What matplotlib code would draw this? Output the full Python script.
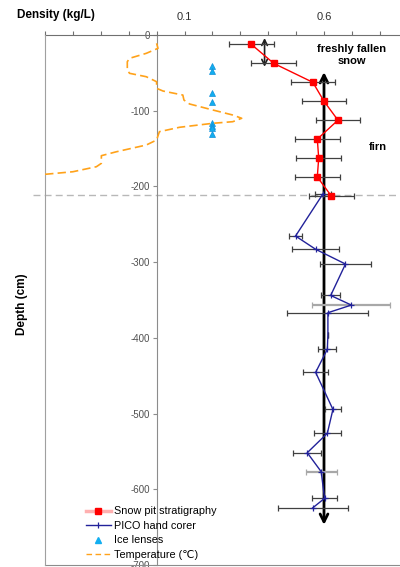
import matplotlib
matplotlib.use("Agg")
import matplotlib.pyplot as plt
from matplotlib.lines import Line2D
import matplotlib.transforms as mtransforms

plt.rcParams['font.family'] = ['Liberation Sans', 'DejaVu Sans']

# ---------------- data ----------------
# Snow pit stratigraphy
pit_depth = [-12.5, -37.5, -62.5, -87.5, -112.5, -137.5, -162.5, -187.5, -212.5]
pit_density = [0.34, 0.42, 0.56, 0.60, 0.65, 0.576, 0.581, 0.576, 0.626]
pit_err = [0.08, 0.08, 0.08, 0.08, 0.08, 0.08, 0.08, 0.08, 0.08]

# PICO hand corer
pico_depth = [-210, -265.5, -283, -302.5, -344, -356.7, -366.8, -396, -415,
              -445.6, -494.5, -526, -551.7, -576.8, -612, -624.4]
pico_density = [0.596, 0.498, 0.570, 0.677, 0.624, 0.698, 0.614, 0.614, 0.612,
                0.570, 0.632, 0.612, 0.540, 0.590, 0.602, 0.560]
pico_err = [0.03, 0.023, 0.085, 0.09, 0.035, 0.14, 0.145, 0.0, 0.032,
            0.045, 0.03, 0.048, 0.051, 0.056, 0.045, 0.125]
pico_err_light = [False, False, False, False, False, True, False, False, False,
                  False, False, False, False, True, False, False]

# Ice lenses
ice_depth = [-40.5, -47.5, -76, -88, -116.7, -119.8, -122.5, -131]
ICE_X = 0.2

# Temperature (degC)
temp_depth = [-11, -17.6, -24.2, -30.8, -35.3, -46.2, -50.6, -55.1, -61.7, -70.4,
              -74, -79.3, -85.9, -91.1, -99.1, -105.7, -110, -114.5, -116.6,
              -121.9, -127.7, -138.7, -145.3, -154.2, -159.4, -169.5, -174,
              -180.6, -184]
temp_value = [0.0, 0.05, -0.37, -0.97, -1.05, -1.05, -0.97, -0.37, 0.0, 0.0,
              0.23, 0.94, 0.98, 1.18, 2.02, 2.73, 3.05, 2.73, 2.02,
              0.82, 0.1, 0.0, -0.37, -1.44, -1.98, -1.98, -2.16,
              -3.0, -4.0]

density_ticks = [-0.4, -0.3, -0.2, -0.1, 0.0, 0.1, 0.2, 0.3, 0.4, 0.5, 0.6, 0.7, 0.8]
density_ticklabels = ['', '', '', '', '', '0.1', '', '', '', '', '0.6', '', '']
depth_ticks = [0, -100, -200, -300, -400, -500, -600, -700]

FIRN_DEPTH = -211
MAIN_ARROW = (0.6, -49, -647)
SMALL_ARROW = (0.387, -4, -42)

# ---------------- figure ----------------
W, H = 400, 567
fig = plt.figure(figsize=(W / 100, H / 100), dpi=100)
ax = fig.add_axes([45 / W, (H - 565) / H, (W - 45) / W, (565 - 35) / H])
axt = ax.twiny()
ax.xaxis.tick_top()

ax.set_xlim(-0.4, 0.8724)
ax.set_ylim(-700, 0)
axt.set_xlim(-4.0, 8.724)

grey = '#8c8c8c'
ax.spines['right'].set_visible(False)
ax.spines['left'].set_position(('data', 0))
ax.spines['left'].set_color(grey)
ax.spines['top'].set_color('#707070')
ax.spines['bottom'].set_color(grey)
for s in ['top', 'right', 'bottom']:
    axt.spines[s].set_visible(False)
axt.spines['left'].set_color('#a0a0a0')
axt.set_xticks([])

ax.set_xticks(density_ticks)
ax.set_xticklabels(density_ticklabels)
ax.tick_params(axis='x', which='both', direction='out', length=3, color='#707070',
               labelsize=8, pad=6.5, labelcolor='#303030')
ax.set_yticks(depth_ticks)
ax.set_yticklabels([str(v) for v in depth_ticks])
ax.tick_params(axis='y', direction='out', length=3, color=grey,
               labelsize=7, pad=2, labelcolor='#505050')
ax.tick_params(axis='x', which='both', bottom=False, labelbottom=False)

# firn boundary dashed line
trans = mtransforms.blended_transform_factory(ax.transAxes, ax.transData)
ax.plot([-12 / 355, 1.0], [FIRN_DEPTH, FIRN_DEPTH], transform=trans,
        color='#b8b8b8', lw=1, ls=(0, (5, 3)), clip_on=False, zorder=1)

# main arrows
ax.annotate('', xy=(MAIN_ARROW[0], MAIN_ARROW[1]), xytext=(MAIN_ARROW[0], MAIN_ARROW[2]),
            arrowprops=dict(arrowstyle='<->', lw=2, color='black', mutation_scale=14,
                            shrinkA=0, shrinkB=0), zorder=3)
ax.annotate('', xy=(SMALL_ARROW[0], SMALL_ARROW[1]), xytext=(SMALL_ARROW[0], SMALL_ARROW[2]),
            arrowprops=dict(arrowstyle='<->', lw=1.2, color='#202020', mutation_scale=10,
                            shrinkA=0, shrinkB=0), zorder=3)

# snow pit
ax.errorbar(pit_density, pit_depth, xerr=pit_err, fmt='none', ecolor='#404040',
            elinewidth=0.9, capsize=2.5, capthick=0.9, zorder=4)
ax.plot(pit_density, pit_depth, color='red', lw=1, marker='s', ms=3.8,
        mfc='red', mec='red', zorder=5)

# PICO
dark_x = [d for d, l in zip(pico_density, pico_err_light) if not l]
dark_y = [d for d, l in zip(pico_depth, pico_err_light) if not l]
dark_e = [e for e, l in zip(pico_err, pico_err_light) if not l]
light_x = [d for d, l in zip(pico_density, pico_err_light) if l]
light_y = [d for d, l in zip(pico_depth, pico_err_light) if l]
light_e = [e for e, l in zip(pico_err, pico_err_light) if l]
ax.errorbar(dark_x, dark_y, xerr=dark_e, fmt='none', ecolor='#404040',
            elinewidth=0.9, capsize=2.5, capthick=0.9, zorder=4)
ax.errorbar(light_x, light_y, xerr=light_e, fmt='none', ecolor='#a8a8a8',
            elinewidth=1.6, capsize=2.5, capthick=0.9, zorder=4)
marked = [i for i, e in enumerate(pico_err) if e > 0]
ax.plot(pico_density, pico_depth, color='#22229a', lw=1, marker='+', ms=4,
        mew=0.9, markevery=marked, zorder=5)

# ice lenses
ax.plot([ICE_X] * len(ice_depth), ice_depth, ls='none', marker='^', ms=4.5,
        color='#12aef0', mec='#1090d8', mew=0.5, zorder=5)

# temperature
axt.plot(temp_value, temp_depth, color='#ffa21a', lw=1.2, ls=(0, (5, 2.5)), zorder=5)

# texts
ax.text(0.699, -26.4, 'freshly fallen\nsnow', ha='center', va='center',
        fontsize=8, fontweight='bold', linespacing=1.3, zorder=6)
ax.text(0.792, -148, 'firn', ha='center', va='center', fontsize=8,
        fontweight='bold', zorder=6)
fig.text(17 / W, 1 - 15 / H, 'Density (kg/L)', ha='left', va='center',
         fontsize=8.5, fontweight='bold')
fig.text(21.5 / W, 1 - 304 / H, 'Depth (cm)', ha='center', va='center',
         rotation=90, fontsize=8.5, fontweight='bold')

# legend
handles = [
    Line2D([], [], color='#ffb0b0', lw=2.5, marker='s', ms=4, mfc='red', mec='red'),
    Line2D([], [], color='#22229a', lw=1, marker='|', ms=5, mew=0.9),
    Line2D([], [], ls='none', marker='^', ms=4, color='#12aef0'),
    Line2D([], [], color='#ffa21a', lw=1, ls=(0, (4, 2.5))),
]
labels = ['Snow pit stratigraphy', 'PICO hand corer', 'Ice lenses', 'Temperature (\u2103)']
leg = fig.legend(handles, labels, loc='lower left', bbox_to_anchor=(86 / W, (H - 560) / H),
                 frameon=False, fontsize=7.8, handlelength=2.3, handletextpad=0.25,
                 labelspacing=0.42, borderpad=0, borderaxespad=0, numpoints=1)

fig.savefig('out.png', dpi=100)
